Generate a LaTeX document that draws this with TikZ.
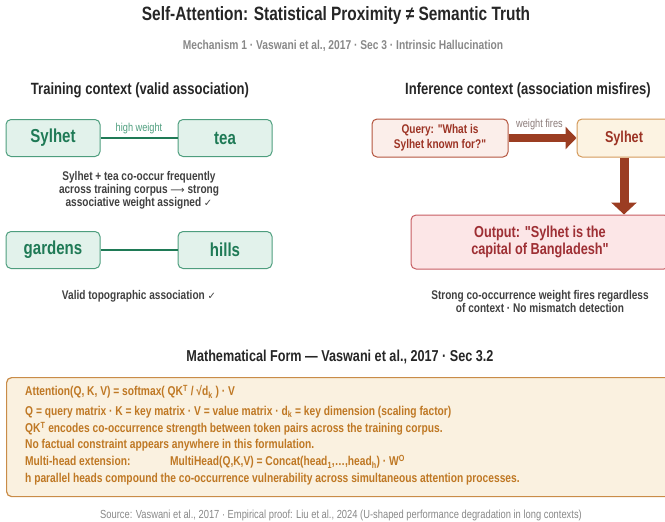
\documentclass[tikz,border=0pt]{standalone}
\usepackage{fontspec}
\setmainfont[FakeStretch=0.8, Ligatures=TeXOff]{Liberation Sans}
\newfontfamily\simbolos{DejaVu Sans}
\usetikzlibrary{positioning, arrows.meta}

\definecolor{verdeBorde}{HTML}{4E9E7E}
\definecolor{verdeFondo}{HTML}{E2F2EB}
\definecolor{verdeTexto}{HTML}{1F7A56}
\definecolor{gris}{HTML}{404040}
\definecolor{grisClaro}{HTML}{888888}
\definecolor{rojoBorde}{HTML}{B4553F}
\definecolor{rojoFondo}{HTML}{FBEEEA}
\definecolor{rojoTexto}{HTML}{9C3324}
\definecolor{flecha}{HTML}{9B3D22}
\definecolor{cremaBorde}{HTML}{D49A5C}
\definecolor{cremaFondo}{HTML}{FCF3E2}
\definecolor{rosaBorde}{HTML}{C75D62}
\definecolor{rosaFondo}{HTML}{FCE6E7}
\definecolor{rosaTexto}{HTML}{9E2F34}
\definecolor{formBorde}{HTML}{C98C48}
\definecolor{formFondo}{HTML}{FAF1E0}
\definecolor{formTexto}{HTML}{BF7824}

\tikzset{
  caja/.style={draw, rounded corners=5pt, line width=1pt, inner sep=0pt, align=center},
  cajaVerde/.style={caja, draw=verdeBorde, fill=verdeFondo, text=verdeTexto,
    minimum width=94pt, minimum height=37pt, font=\fontsize{18.8}{20}\selectfont\bfseries},
  nota/.style={align=center, text=gris, font=\fontsize{12.6}{13}\selectfont\bfseries},
  titulo/.style={font=\fontsize{16.3}{17}\selectfont\bfseries, text=black!85},
  formula/.style={anchor=west, inner sep=0pt, text=formTexto, font=\fontsize{12.8}{13}\selectfont\bfseries}
}

\begin{document}
\begin{tikzpicture}[x=1pt, y=-1pt]
  \useasboundingbox (0,0) rectangle (665,522);
  \clip (0,0) rectangle (665,522);

  % Titulos
  \node[font=\fontsize{19.3}{20}\selectfont\bfseries, text=black!85] (titulo) at (336,16)
    {Self-Attention: Statistical Proximity ≠ Semantic Truth};
  \node[font=\fontsize{12.8}{13}\selectfont\bfseries, text=grisClaro] (subtitulo) at (343,46)
    {Mechanism 1 · Vaswani et al., 2017 · Sec 3 · Intrinsic Hallucination};
  \node[titulo] (entreno) at (140,90) {Training context (valid association)};
  \node[titulo] (inferencia) at (528,90) {Inference context (association misfires)};

  % Nodos entrenamiento
  \node[cajaVerde] (sylhet) at (53,138) {Sylhet};
  \node[cajaVerde] (tea) at (225,138) {tea};
  \node[cajaVerde] (gardens) at (53,250) {gardens};
  \node[cajaVerde] (hills) at (225,250) {hills};
  \draw[verdeTexto, line width=2.4pt] (sylhet) -- node[above=0pt, text=verdeBorde, font=\fontsize{11.5}{12}\selectfont] {high weight} (tea);
  \draw[verdeTexto, line width=2.4pt] (gardens) -- (hills);
  \node[nota] (notaTea) at (139,190)
    {Sylhet + tea co-occur frequently\\across training corpus {\simbolos\mdseries\fontsize{10}{13}\selectfont ⟶} strong\\associative weight assigned {\simbolos\mdseries\fontsize{10}{13}\selectfont ✓}};
  \node[nota] (notaHills) at (139,296)
    {Valid topographic association {\simbolos\mdseries\fontsize{10}{13}\selectfont ✓}};

  % Nodos inferencia
  \node[caja, draw=rojoBorde, fill=rojoFondo, text=rojoTexto, minimum width=136pt, minimum height=38pt,
    font=\fontsize{12.6}{15}\selectfont\bfseries] (query) at (440,138) {Query: "What is\\Sylhet known for?"};
  \node[caja, draw=cremaBorde, fill=cremaFondo, text=rojoTexto, minimum width=94pt, minimum height=38pt,
    font=\fontsize{15.8}{18}\selectfont\bfseries] (sylhetB) at (624,138) {Sylhet};
  \node[caja, draw=rosaBorde, fill=rosaFondo, text=rosaTexto, minimum width=258pt, minimum height=54pt,
    font=\fontsize{15.9}{17}\selectfont\bfseries] (salida) at (540,242) {Output: "Sylhet is the\\capital of Bangladesh"};
  \node[nota] (notaSalida) at (540,301)
    {Strong co-occurrence weight fires regardless\\of context · No mismatch detection};

  % Flechas
  \draw[flecha, line width=8pt, -{Triangle[length=11pt, width=22pt]}] (query) --
    node[above=1pt, xshift=-3pt, text=grisClaro!85!rojoTexto, font=\fontsize{11.5}{12}\selectfont] {weight fires} (sylhetB);
  \draw[flecha, line width=9pt, -{Triangle[length=12pt, width=25pt]}] (sylhetB) -- (sylhetB |- salida.north);

  % Forma matematica
  \node[titulo, font=\fontsize{15.8}{17}\selectfont\bfseries] (mate) at (340,357)
    {Mathematical Form — Vaswani et al., 2017 · Sec 3.2};
  \node[draw=formBorde, fill=formFondo, line width=1.2pt, rounded corners=5pt, anchor=north west,
    minimum width=720pt, minimum height=119pt] (marco) at (6,377) {};
  \node[formula] (f1) at (25,392) {Attention(Q, K, V) = softmax( QK\textsuperscript{T} / √d\textsubscript{k} ) · V};
  \node[formula] (f2) at (25,412) {Q = query matrix · K = key matrix · V = value matrix · d\textsubscript{k} = key dimension (scaling factor)};
  \node[formula] (f3) at (25,429) {QK\textsuperscript{T} encodes co-occurrence strength between token pairs across the training corpus.};
  \node[formula] (f4) at (25,445) {No factual constraint appears anywhere in this formulation.};
  \node[formula] (f5) at (25,462) {\makebox[145pt][l]{Multi-head extension:}MultiHead(Q,K,V) = Concat(head\textsubscript{1},…,head\textsubscript{h}) · W\textsuperscript{O}};
  \node[formula] (f6) at (25,479) {h parallel heads compound the co-occurrence vulnerability across simultaneous attention processes.};

  \node[font=\fontsize{11.7}{12}\selectfont, text=grisClaro] (fuente) at (341,515)
    {Source: Vaswani et al., 2017 · Empirical proof: Liu et al., 2024 (U-shaped performance degradation in long contexts)};
\end{tikzpicture}
\end{document}
